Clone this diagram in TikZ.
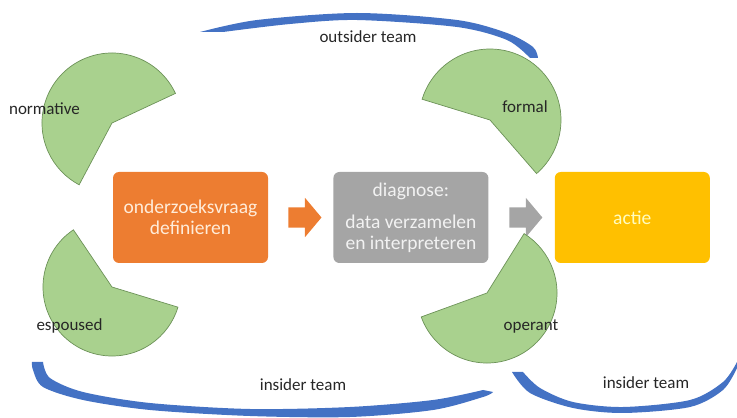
\documentclass[tikz,border=0pt]{standalone}
\usepackage{fontspec}
\setmainfont{Carlito}
\usetikzlibrary{positioning,shapes.arrows,calc}

\definecolor{boxorange}{RGB}{237,125,49}
\definecolor{boxgrey}{RGB}{165,165,165}
\definecolor{boxyellow}{RGB}{255,192,0}
\definecolor{piegreen}{RGB}{169,209,142}
\definecolor{pieline}{RGB}{108,146,88}
\definecolor{teamblue}{RGB}{68,114,196}

\begin{document}
\begin{tikzpicture}[x=1pt, y=1pt, node distance=65pt,
  box/.style={rounded corners=6pt, minimum width=155pt, minimum height=91pt, align=center, font=\fontsize{19.5}{20.5}\selectfont},
  pie/.style={fill=piegreen, draw=pieline, line width=0.7pt},
  arw/.style={single arrow, single arrow head extend=9.5pt, single arrow tip angle=100, minimum height=33pt, inner xsep=0pt, inner ysep=10pt},
  lbl/.style={text=black!85, font=\fontsize{17}{20}\selectfont},
  team/.style={fill=teamblue}]
\useasboundingbox (0,0) rectangle (737,418);

% steps
\node[box, fill=boxorange, text=orange!15] (ask) at (190.5,200.5) {onderzoeksvraag\\definieren};
\node[box, fill=boxgrey, text=black!5] (diag) [right=of ask] {diagnose:\\[12pt]data verzamelen\\en interpreteren};
\node[box, fill=boxyellow, text=yellow!25] (act) [right=66pt of diag] {actie};
\node[arw, fill=boxorange] (a1) at ($(ask.east)!0.5!(diag.west)$) {};
\node[arw, fill=boxgrey] (a2) at ($(diag.east)!0.5!(act.west)$) {};

% pies
\draw[pie] (112,295) -- ++(25:70) arc[start angle=25, end angle=242, radius=70] -- cycle;
\draw[pie] (112,131) -- ++(124:69) arc[start angle=124, end angle=343, radius=69] -- cycle;
\draw[pie] (490,298) -- ++(-49:71) arc[start angle=-49, end angle=163, radius=71] -- cycle;
\draw[pie] (487,125) -- ++(200:70) arc[start angle=200, end angle=418, radius=70] -- cycle;

% teams
\fill[team] plot[smooth] coordinates {(200,386) (257,398) (357,405) (457,398) (507,385) (533,371) (538,360)}
  -- plot[smooth] coordinates {(530,360) (507,378) (457,391) (357,398) (290,394) (223,386)} -- cycle;
\fill[team] plot[smooth] coordinates {(32,56) (33,48) (43,31) (83,18) (150,8) (250,2) (350,1) (433,8) (483,21) (493,26)}
  -- plot[smooth] coordinates {(483,28) (433,18) (350,11) (250,9) (150,15) (83,26) (50,40) (43,56)} -- cycle;
\fill[team] plot[smooth] coordinates {(512,46) (530,25) (573,10) (623,5) (690,11) (723,28) (737,50)}
  -- plot[smooth] coordinates {(737,56) (723,36) (690,18) (623,11) (573,16) (540,30) (523,46)} -- cycle;

% labels
\node[lbl] (normative) at (44.5,309) {normative};
\node[lbl] (formal) at (525,311) {formal};
\node[lbl] (espoused) at (69.5,92) {espoused};
\node[lbl] (operant) at (531,92) {operant};
\node[lbl] (outsider) at (368,381) {outsider team};
\node[lbl] (insider1) at (303,33) {insider team};
\node[lbl] (insider2) at (646,35) {insider team};
\end{tikzpicture}
\end{document}
